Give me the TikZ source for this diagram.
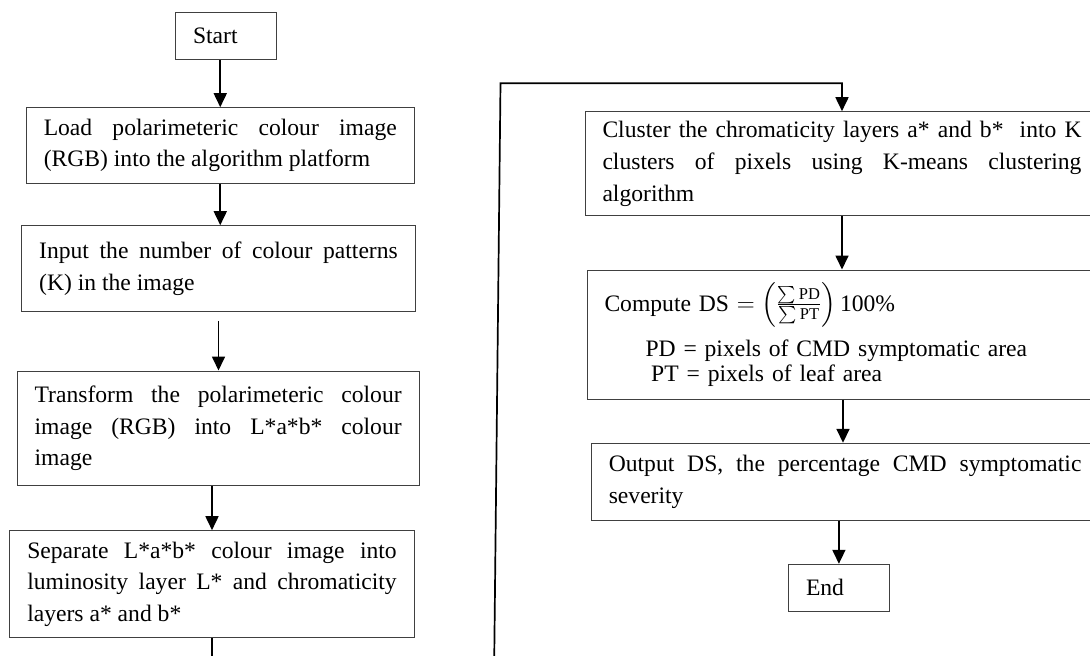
\documentclass[tikz,border=0pt]{standalone}
\usepackage{fontspec}
\usepackage{amsmath}
\setmainfont{Liberation Serif}
\usetikzlibrary{arrows.meta}
\hyphenpenalty=10000
\exhyphenpenalty=10000
\tolerance=10000
\hbadness=10000
\definecolor{boxline}{HTML}{404040}
\tikzset{
  fbox/.style={draw=boxline, line width=1pt, inner xsep=17.5pt, inner ysep=0pt,
    align=justify, font=\fontsize{23.6pt}{31.7pt}\selectfont},
  termbox/.style={fbox, align=left},
  arr/.style={line width=1.7pt, -{Triangle[length=14pt,width=13pt]}}
}
\begin{document}
\begin{tikzpicture}[x=1pt,y=-1pt]
\useasboundingbox (0,0) rectangle (1090,656);
\clip (0,0) rectangle (1090,656);
% left column
\node[termbox, text width=66pt, minimum width=101pt, minimum height=47pt] (start) at (226,35.8) {Start};
\node[fbox, text width=353pt, minimum width=388pt, minimum height=75.3pt] (load) at (220.25,145.35)
  {Load polarimeteric colour image\linebreak (RGB) into the algorithm platform};
\node[fbox, text width=358.6pt, minimum width=393.6pt, minimum height=85.6pt] (input) at (218.5,268.5)
  {Input the number of colour patterns\linebreak (K) in the image};
\node[fbox, text width=367pt, minimum width=402pt, minimum height=114.7pt] (transform) at (218.15,428.35)
  {Transform the polarimeteric colour\linebreak image (RGB) into L*a*b* colour\linebreak image};
\node[fbox, text width=369.4pt, minimum width=404.4pt, minimum height=107pt] (separate) at (212,584.2)
  {Separate L*a*b* colour image into\linebreak luminosity layer L* and chromaticity\linebreak layers a* and b*};
% right column
\node[fbox, text width=479pt, minimum width=514pt, minimum height=104pt] (cluster) at (842,163.7)
  {Cluster the chromaticity layers a* and b*\ \ into K\linebreak clusters of pixels using K-means clustering\linebreak algorithm};
\node[fbox, align=left, text width=477pt, minimum width=512pt, minimum height=129.3pt,
  font=\fontsize{23.6pt}{25pt}\selectfont] (compute) at (843,334.65)
  {Compute DS $=\left(\frac{\sum\text{PD}}{\sum\text{PT}}\right)$\,100\%\\[12pt]
   \hspace*{41pt}PD = pixels of CMD symptomatic area\\
   \hspace*{46.7pt}PT = pixels of leaf area};
\node[fbox, text width=472.7pt, minimum width=507.7pt, minimum height=76.7pt] (output) at (845.15,481.65)
  {Output DS, the percentage CMD symptomatic\linebreak severity};
\node[termbox, text width=65.8pt, minimum width=100.8pt, minimum height=47pt] (end) at (838.9,587.8) {End};
% loop coordinates
\coordinate (b1) at (212.2,680);
\coordinate (b2) at (494,680);
\coordinate (c1) at (500.5,83.3);
% connectors
\draw[arr] (load.north |- start.south) -- (load.north);
\draw[arr] (load.south) -- (load.south |- input.north);
\draw[arr] ([yshift=-9pt]input.south) -- (input.south |- transform.north);
\draw[arr] (separate.north |- transform.south) -- (separate.north);
\draw[arr] (separate.south) -- (b1) -- (b2) -- (c1) -- (c1 -| cluster.north) -- (cluster.north);
\draw[arr] (cluster.south) -- (cluster.south |- compute.north);
\draw[arr] (compute.south) -- (compute.south |- output.north);
\draw[arr] (end.north |- output.south) -- (end.north);
\end{tikzpicture}
\end{document}
